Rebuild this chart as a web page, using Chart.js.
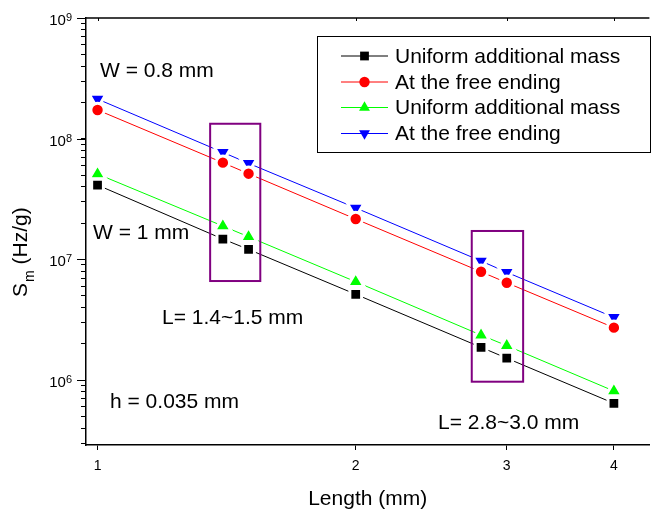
<!DOCTYPE html>
<html>
<head>
<meta charset="utf-8">
<script src="https://cdn.jsdelivr.net/npm/chart.js@4.4.0/dist/chart.umd.min.js"></script>
<style>
    html, body { margin: 0; padding: 0; background: #fff; overflow: hidden; }
    #chart { display: block; }
</style>
</head>
<body>
<canvas id="chart" width="662" height="516"></canvas>
<script>
// Data (log-log)
const lengths = [1, 1.4, 1.5, 2, 2.8, 3, 4];
const uniformBlack = [4.13e7, 1.475e7, 1.21e7, 5.14e6, 1.87e6, 1.52e6, 6.42e5];
const freeEndRed = [1.73e8, 6.33e7, 5.13e7, 2.16e7, 7.9e6, 6.41e6, 2.72e6];
const uniformGreen = [5.1e7, 1.89e7, 1.54e7, 6.53e6, 2.36e6, 1.93e6, 8.12e5];
const freeEndBlue = [2.13e8, 7.71e7, 6.25e7, 2.67e7, 9.7e6, 7.82e6, 3.31e6];

const seriesLabels = ['Uniform additional mass', 'At the free ending', 'Uniform additional mass', 'At the free ending'];
const xTickValues = [1, 2, 3, 4];
const yDecades = [1e5, 1e6, 1e7, 1e8, 1e9];

// highlight boxes in data units: [xFrom, xTo, yTop, yBottom]
const boxes = [
    [1.353, 1.548, 1.33e8, 6.62e6],
    [2.731, 3.135, 1.72e7, 9.7e5]
];

const FONT = '"Liberation Sans", Arial, sans-serif';
const GAP = 3; // white halo round markers, like the line gaps in the original

function toPoints(values) {
    return lengths.map((x, i) => ({ x: x, y: values[i] }));
}

// radius here is the visible radius; the halo is added on top
function makeSeries(label, values, color, style, radius, haloRadius, rotation) {
    return {
        label: label,
        data: toPoints(values),
        showLine: true,
        borderColor: color,
        borderWidth: 1,
        backgroundColor: color,
        pointBackgroundColor: color,
        pointBorderColor: '#ffffff',
        pointBorderWidth: GAP,
        pointStyle: style,
        pointRadius: haloRadius,
        pointRotation: rotation || 0,
        legendRadius: radius
    };
}

const datasets = [
    makeSeries(seriesLabels[0], uniformBlack, '#000000', 'rect', 6.2, 8.3),
    makeSeries(seriesLabels[1], freeEndRed, '#ff0000', 'circle', 5.2, 6.7),
    makeSeries(seriesLabels[2], uniformGreen, '#00ff00', 'triangle', 6.3, 9.6),
    makeSeries(seriesLabels[3], freeEndBlue, '#0000ff', 'triangle', 6.3, 9.6, 180)
];

// purple boxes, text notes, legend, top axis, decade labels and y title
const extras = {
    id: 'extras',
    afterDraw(chart) {
        const ctx = chart.ctx;
        const xs = chart.scales.x;
        const ys = chart.scales.y;
        const area = chart.chartArea;
        ctx.save();

        // top axis line with inward ticks
        ctx.strokeStyle = '#000';
        ctx.lineWidth = 1.5;
        ctx.beginPath();
        ctx.moveTo(area.left, area.top);
        ctx.lineTo(area.right, area.top);
        ctx.stroke();
        ctx.lineWidth = 1;
        xTickValues.forEach(v => {
            const px = Math.round(xs.getPixelForValue(v)) + 0.5;
            ctx.beginPath();
            ctx.moveTo(px, area.top);
            ctx.lineTo(px, area.top + 3);
            ctx.stroke();
        });

        // longer ticks and 10^n labels at the decades
        yDecades.forEach(d => {
            if (d < ys.min || d > ys.max) return;
            const py = Math.round(ys.getPixelForValue(d)) + 0.5;
            ctx.beginPath();
            ctx.moveTo(area.left - 9, py);
            ctx.lineTo(area.left, py);
            ctx.stroke();

            const exp = String(Math.round(Math.log10(d)));
            ctx.fillStyle = '#000';
            ctx.textAlign = 'left';
            ctx.font = '11px ' + FONT;
            const w2 = ctx.measureText(exp).width;
            ctx.font = '15px ' + FONT;
            const w1 = ctx.measureText('10').width;
            const right = area.left - 14;
            ctx.textBaseline = 'middle';
            ctx.fillText('10', right - w2 - w1, py + 2);
            ctx.font = '11px ' + FONT;
            ctx.textBaseline = 'alphabetic';
            ctx.fillText(exp, right - w2, py + 2);
        });

        // highlight boxes
        ctx.strokeStyle = '#800080';
        ctx.lineWidth = 2;
        boxes.forEach(b => {
            const x1 = xs.getPixelForValue(b[0]);
            const x2 = xs.getPixelForValue(b[1]);
            const y1 = ys.getPixelForValue(b[2]);
            const y2 = ys.getPixelForValue(b[3]);
            ctx.strokeRect(x1, y1, x2 - x1, y2 - y1);
        });

        // notes
        ctx.fillStyle = '#000';
        ctx.font = '21px ' + FONT;
        ctx.textBaseline = 'middle';
        ctx.textAlign = 'left';
        ctx.fillText('W = 0.8 mm', 100, 71);
        ctx.fillText('W = 1 mm', 93, 233);
        ctx.fillText('L= 1.4~1.5 mm', 162, 318);
        ctx.fillText('h = 0.035 mm', 110, 402);
        ctx.fillText('L= 2.8~3.0 mm', 438, 423);

        // legend
        ctx.strokeStyle = '#000';
        ctx.lineWidth = 1;
        ctx.strokeRect(317.5, 36.5, 333, 116);
        const rowsY = [56, 82, 107.5, 133.5];
        chart.data.datasets.forEach((ds, i) => {
            const y = rowsY[i];
            ctx.strokeStyle = ds.borderColor;
            ctx.lineWidth = 1;
            ctx.beginPath();
            ctx.moveTo(341, y);
            ctx.lineTo(388, y);
            ctx.stroke();
            ctx.fillStyle = ds.pointBackgroundColor;
            Chart.helpers.drawPoint(ctx, {
                pointStyle: ds.pointStyle,
                radius: ds.legendRadius,
                rotation: ds.pointRotation,
                borderWidth: 0
            }, 364.5, y);
            ctx.fillStyle = '#000';
            ctx.font = '21px ' + FONT;
            ctx.textBaseline = 'middle';
            ctx.fillText(ds.label, 395, y + 1);
        });

        // y axis title with subscript
        ctx.translate(27, 297);
        ctx.rotate(-Math.PI / 2);
        ctx.fillStyle = '#000';
        ctx.textBaseline = 'alphabetic';
        ctx.textAlign = 'left';
        ctx.font = '21px ' + FONT;
        ctx.fillText('S', 0, 0);
        let w = ctx.measureText('S').width;
        ctx.font = '14px ' + FONT;
        ctx.fillText('m', w + 1, 7);
        w += 1 + ctx.measureText('m').width;
        ctx.font = '21px ' + FONT;
        ctx.fillText(' (Hz/g)', w, 0);

        ctx.restore();
    }
};

new Chart(document.getElementById('chart'), {
    type: 'scatter',
    data: { datasets: datasets },
    options: {
        responsive: false,
        animation: false,
        layout: { padding: { top: 18, right: 0, left: 0, bottom: 0 } },
        plugins: {
            legend: { display: false },
            tooltip: { enabled: false }
        },
        scales: {
            x: {
                type: 'logarithmic',
                position: 'bottom',
                min: 0.9695,
                max: 4.40,
                afterBuildTicks: scale => {
                    scale.ticks = xTickValues.map(v => ({ value: v }));
                },
                afterFit: scale => { scale.height = 71; },
                ticks: {
                    autoSkip: false,
                    maxRotation: 0,
                    padding: 8,
                    color: '#000',
                    font: { size: 14, family: FONT },
                    callback: value => String(value)
                },
                grid: {
                    drawOnChartArea: false,
                    drawTicks: true,
                    tickLength: 5,
                    color: '#000',
                    lineWidth: 1
                },
                border: { color: '#000', width: 1.5 },
                title: {
                    display: true,
                    text: 'Length (mm)',
                    color: '#000',
                    font: { size: 21, family: FONT },
                    padding: { top: 0, bottom: 4 }
                }
            },
            y: {
                type: 'logarithmic',
                min: 2.9e5,
                max: 1e9,
                afterBuildTicks: scale => {
                    const ticks = [];
                    yDecades.forEach(d => {
                        for (let m = 1; m <= 9; m++) {
                            const v = m * d;
                            if (v >= scale.min && v <= scale.max) ticks.push({ value: v, major: m === 1 });
                        }
                    });
                    scale.ticks = ticks;
                },
                afterFit: scale => { scale.width = 86; },
                ticks: {
                    autoSkip: false,
                    // decade labels are drawn with real superscripts in the plugin
                    callback: () => ''
                },
                grid: {
                    drawOnChartArea: false,
                    drawTicks: true,
                    tickLength: 5,
                    color: '#000',
                    lineWidth: 1
                },
                border: { color: '#000', width: 1.5 }
            }
        }
    },
    plugins: [extras]
});
</script>
</body>
</html>
